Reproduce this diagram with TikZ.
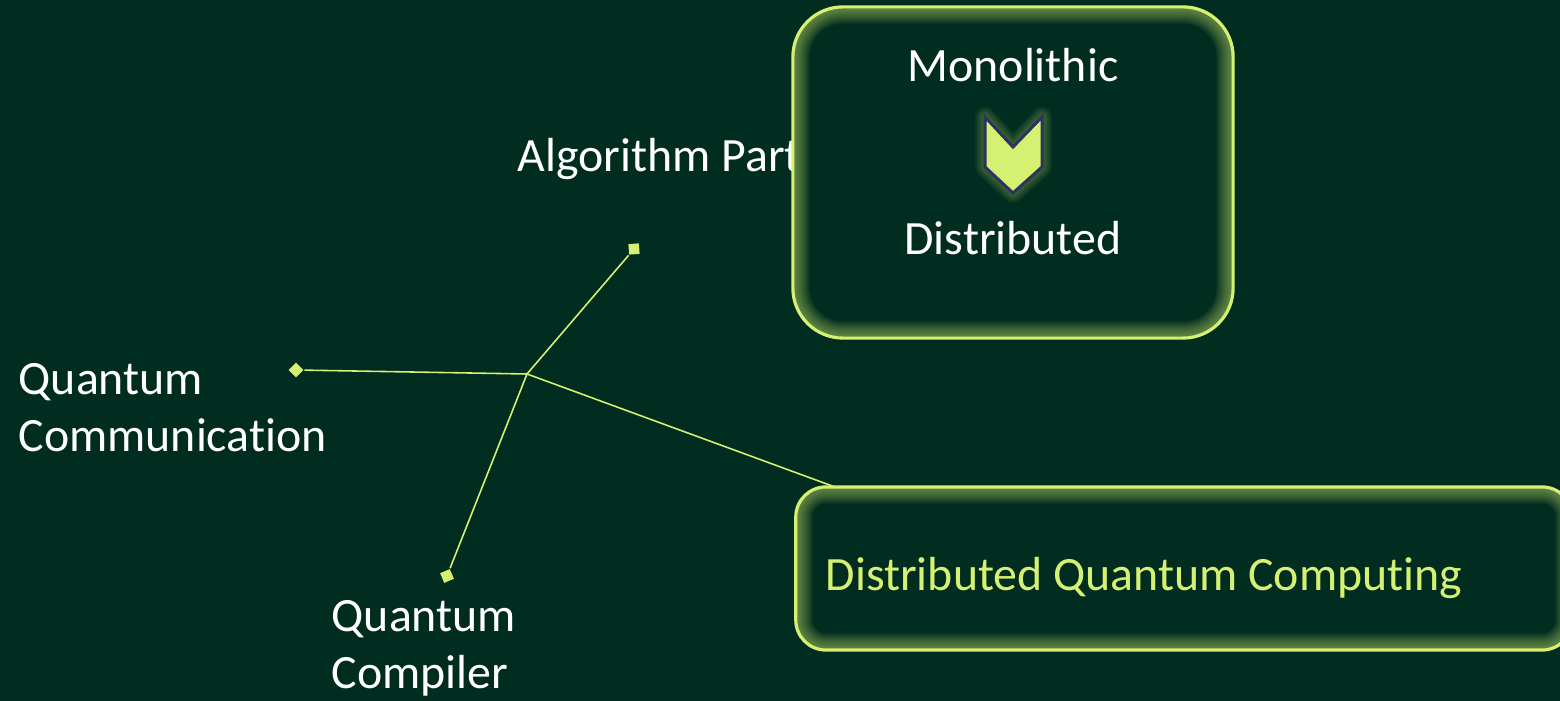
\documentclass[tikz,border=0pt]{standalone}
\usepackage{fontspec}
\setmainfont{Carlito}[Ligatures=NoCommon]
\usepackage{tikz}
\definecolor{deepgreen}{RGB}{1,45,32}
\definecolor{limegreen}{RGB}{214,240,114}
\definecolor{chevronblue}{RGB}{42,52,94}

\begin{document}
\begin{tikzpicture}[x=0.01cm, y=-0.01cm,
    labeltext/.style={text=white, inner sep=0, font=\fontsize{13.6}{16.2}\selectfont},
    link/.style={limegreen, line width=0.45pt},
    marker/.style={fill=limegreen, minimum size=0.105cm, inner sep=0},
    glowbox/.style={draw=limegreen, line width=0.9pt, fill=deepgreen, rounded corners=#1, inner sep=0,
      path picture={\foreach \w in {0.04,0.06,...,0.36}
        \draw[limegreen, opacity=0.04, line width=\w cm, rounded corners=#1]
          (path picture bounding box.south west) rectangle (path picture bounding box.north east);}}]
    \useasboundingbox (0,0) rectangle (1560,701);
    \clip (0,0) rectangle (1560,701);
    \fill[deepgreen] (0,0) rectangle (1560,701);

    % spokes
    \coordinate (hub) at (527,374);
    \coordinate (dqcin) at (835,487);
    \node[marker, rotate=4] (malg) at (634,249) {};
    \node[marker, rotate=45] (mcomm) at (296,370) {};
    \node[marker, rotate=23] (mcomp) at (447,576) {};
    \draw[link] (hub) -- (malg);
    \draw[link] (hub) -- (mcomm);
    \draw[link] (hub) -- (mcomp);
    \draw[link] (hub) -- (dqcin);

    \node[labeltext, anchor=base west] (alg) at (517,172) {Algorithm Part};
    \node[labeltext, anchor=west, align=left] (comm) at (18,408) {Quantum\\Communication};
    \node[labeltext, anchor=west, align=left] (comp) at (331,648) {Quantum\\Compiler};

    % boxes
    \node[glowbox=0.5cm, minimum width=4.4cm, minimum height=3.31cm] (mono) at (1013,172.5) {};
    \node[labeltext] (monotext) at (1013,65) {Monolithic};
    \node[labeltext] (disttext) at (1013,238) {Distributed};
    \foreach \w in {0.20,0.17,...,0.05}
      \draw[limegreen, opacity=0.05, line width=\w cm, line join=round]
        (985,117) -- (1013,147) -- (1042,117) -- (1042,167) -- (1013,193) -- (985,167) -- cycle;
    \draw[fill=limegreen, draw=chevronblue, line width=0.85pt]
      (985,117) -- (1013,147) -- (1042,117) -- (1042,167) -- (1013,193) -- (985,167) -- cycle;

    \node[glowbox=0.3cm, minimum width=7.76cm, minimum height=1.63cm] (dqc) at (1184,568.5) {};
    \node[labeltext, text=limegreen, anchor=west] (dqctext) at (825,578) {Distributed Quantum Computing};
\end{tikzpicture}
\end{document}
